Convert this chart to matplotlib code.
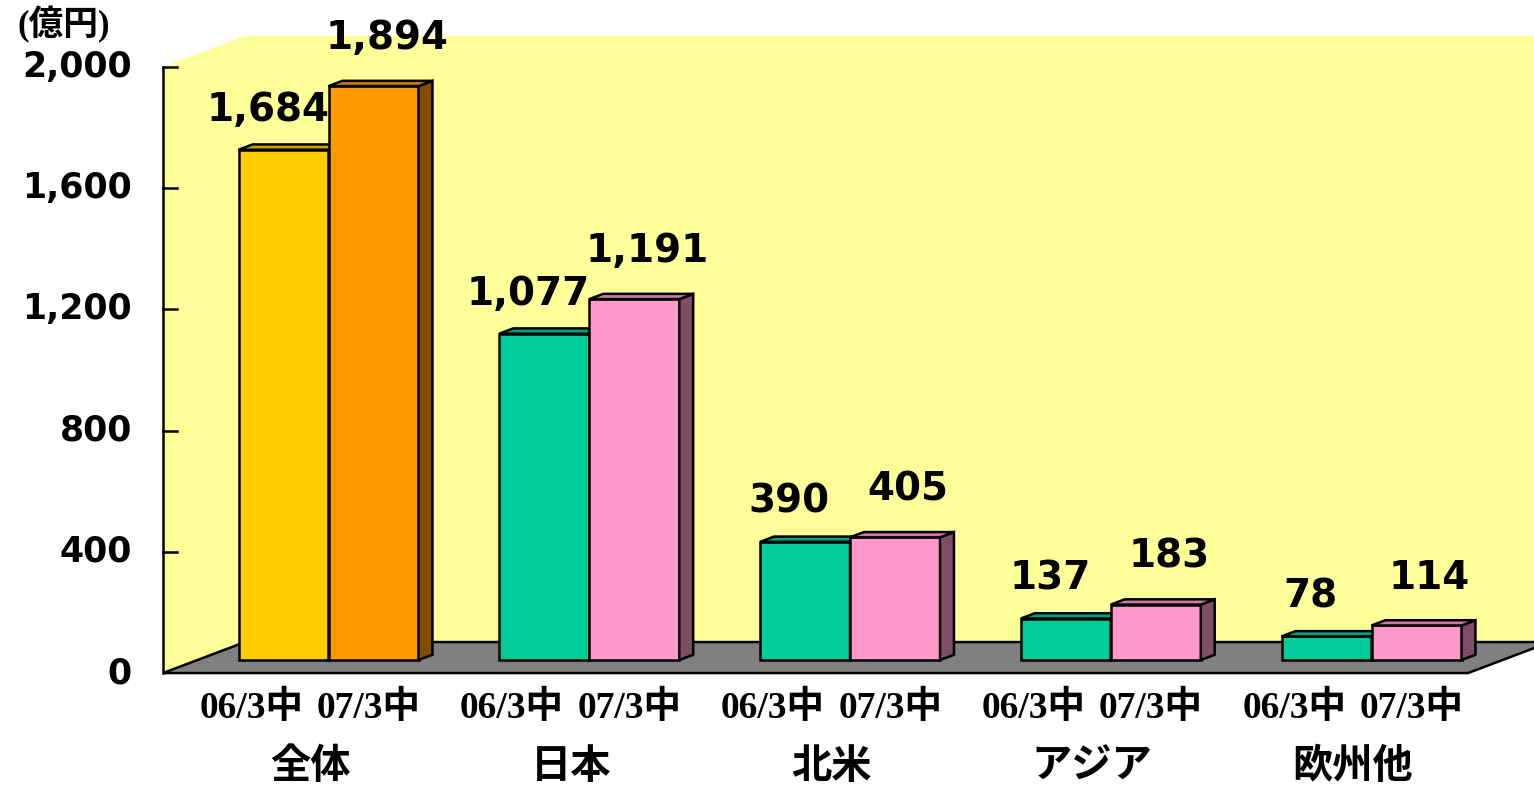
import numpy as np
import matplotlib
matplotlib.use('Agg')
import matplotlib.pyplot as plt
from matplotlib.patches import Polygon
from matplotlib.colors import to_rgb

# data
regions = ["全体", "日本", "北米", "アジア", "欧州他"]
periods = ["06/3中", "07/3中"]
sales_06 = [1684, 1077, 390, 137, 78]
sales_07 = [1894, 1191, 405, 183, 114]
yticks = [0, 400, 800, 1200, 1600, 2000]

colors_06 = ["#FFCC00", "#00CC99", "#00CC99", "#00CC99", "#00CC99"]
colors_07 = ["#FF9900", "#FF99CC", "#FF99CC", "#FF99CC", "#FF99CC"]

wall_color = "#FFFF99"
floor_color = "#808080"

# pseudo-3d geometry (x in group units, y in value units)
x_left, x_right = -0.564, 4.441
dx, dy = 0.3145, 102.3          # full depth offset
floor_pos = 0.42                # depth where bars stand
bar_depth = 0.17
bar_w = 0.345
bar_shift = 0.071
lw = 1.8

fig = plt.figure(figsize=(15.34, 7.87), dpi=100)
ax = fig.add_axes([0, 0, 1, 1])
ax.set_xlim(-1.189, 4.694)
ax.set_ylim(-376, 2221)
ax.axis('off')

top = yticks[-1]

# left wall
ax.add_patch(Polygon([(x_left, 0), (x_left + dx, dy), (x_left + dx, top + dy), (x_left, top)],
                     closed=True, facecolor=wall_color, edgecolor='none', zorder=1))
ax.plot([x_left, x_left], [0, top], color='black', lw=lw, zorder=2)
# back wall
ax.add_patch(Polygon([(x_left + dx, dy), (x_right + dx, dy), (x_right + dx, top + dy), (x_left + dx, top + dy)],
                     closed=True, facecolor=wall_color, edgecolor='none', zorder=1))
# floor
ax.add_patch(Polygon([(x_left, 0), (x_right, 0), (x_right + dx, dy), (x_left + dx, dy)],
                     closed=True, facecolor=floor_color, edgecolor='black', lw=lw, zorder=2))

# y ticks on the front plane
for t in yticks:
    if t > 0:
        ax.plot([x_left, x_left + 0.054], [t, t], color='black', lw=lw, zorder=2)
    ax.text(x_left - 0.119, t, f"{t:,}", ha='right', va='center', fontsize=25, fontweight='bold',
            family='DejaVu Sans', color='black', zorder=5)

ax.text(-1.12, 2105, "(億円)", ha='left', va='baseline', fontsize=25, fontweight='bold',
        family=['Liberation Serif', 'Noto Sans CJK JP'], zorder=5)


def draw_bar(x0, value, color):
    y0 = floor_pos * dy
    ddx, ddy = bar_depth * dx, bar_depth * dy
    c = np.array(to_rgb(color))
    y1 = y0 + value
    ax.add_patch(Polygon([(x0, y0), (x0 + bar_w, y0), (x0 + bar_w, y1), (x0, y1)],
                         closed=True, facecolor=c, edgecolor='black', lw=lw, zorder=3))
    ax.add_patch(Polygon([(x0 + bar_w, y0), (x0 + bar_w + ddx, y0 + ddy),
                          (x0 + bar_w + ddx, y1 + ddy), (x0 + bar_w, y1)],
                         closed=True, facecolor=c * 0.5, edgecolor='black', lw=lw, zorder=3))
    ax.add_patch(Polygon([(x0, y1), (x0 + bar_w, y1), (x0 + bar_w + ddx, y1 + ddy), (x0 + ddx, y1 + ddy)],
                         closed=True, facecolor=c * 0.8, edgecolor='black', lw=lw, zorder=3))


for i, region in enumerate(regions):
    center = i + bar_shift
    draw_bar(center - bar_w, sales_06[i], colors_06[i])
    draw_bar(center, sales_07[i], colors_07[i])

    ax.text(center - bar_w / 2 - 0.06, sales_06[i] + 139, f"{sales_06[i]:,}", ha='center', va='baseline',
            fontsize=28, fontweight='bold', family='DejaVu Sans', zorder=6)
    ax.text(center + bar_w / 2 + 0.05, sales_07[i] + 165, f"{sales_07[i]:,}", ha='center', va='baseline',
            fontsize=28, fontweight='bold', family='DejaVu Sans', zorder=6)

    for j, p in enumerate(periods):
        ax.text(i + (j - 0.5) * 0.45, -148, p, ha='center', va='baseline', fontsize=27, fontweight='bold',
                family=['Liberation Serif', 'Noto Sans CJK JP'], zorder=5)
    ax.text(i, -345, region, ha='center', va='baseline', fontsize=29, fontweight='bold',
            family=['Noto Sans CJK JP', 'DejaVu Sans'], zorder=5)

plt.savefig('out.png', dpi=100)
